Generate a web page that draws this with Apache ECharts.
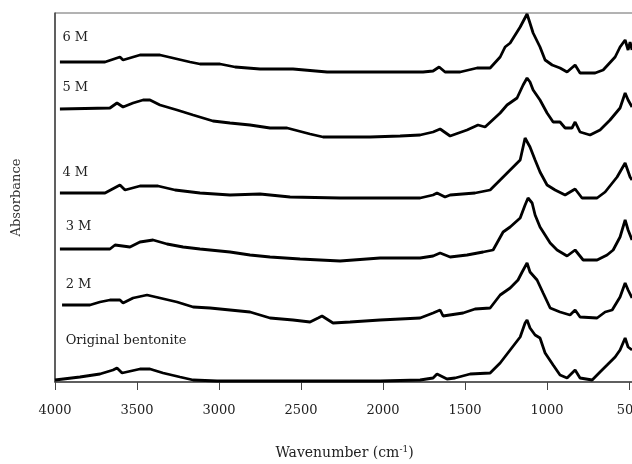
<!DOCTYPE html>
<html>
<head>
<meta charset="utf-8">
<script src="https://cdn.jsdelivr.net/npm/echarts@6/dist/echarts.min.js"></script>
<style>
  html, body { margin: 0; padding: 0; background: #fff; }
  #chart { width: 632px; height: 464px; }
</style>
</head>
<body>
<div id="chart"></div>
<script>
// FTIR spectra, offset vertically (wavenumber, absorbance a.u.)
var tickValues = [4000, 3500, 3000, 2500, 2000, 1500, 1000, 500];

var spec6M = [[3970,3.20],[3695,3.20],[3604,3.25],[3585,3.22],[3482,3.27],[3360,3.27],[3177,3.20],[3116,3.18],[2994,3.18],[2902,3.15],[2750,3.13],[2549,3.13],[2341,3.10],[1756,3.10],[1695,3.11],[1658,3.15],[1622,3.10],[1530,3.10],[1427,3.14],[1347,3.14],[1286,3.25],[1256,3.35],[1225,3.39],[1164,3.55],[1122,3.68],[1085,3.49],[1043,3.35],[1012,3.22],[969,3.17],[921,3.14],[878,3.10],[829,3.17],[799,3.09],[707,3.09],[658,3.12],[585,3.25],[555,3.35],[524,3.42],[506,3.32],[494,3.40],[482,3.32]];

var spec5M = [[3970,2.73],[3665,2.74],[3622,2.79],[3585,2.75],[3524,2.79],[3463,2.82],[3421,2.82],[3360,2.77],[3256,2.72],[3158,2.67],[3037,2.61],[2933,2.59],[2811,2.57],[2689,2.54],[2585,2.54],[2445,2.48],[2366,2.45],[2079,2.45],[1896,2.46],[1774,2.47],[1695,2.50],[1652,2.53],[1591,2.46],[1488,2.52],[1421,2.57],[1378,2.55],[1286,2.69],[1244,2.77],[1183,2.84],[1146,2.97],[1122,3.04],[1104,3.00],[1085,2.92],[1043,2.82],[1000,2.69],[963,2.60],[921,2.60],[890,2.54],[848,2.54],[829,2.60],[799,2.50],[738,2.47],[677,2.52],[616,2.62],[555,2.74],[524,2.89],[506,2.82],[482,2.75]];

var spec4M = [[3970,1.89],[3695,1.89],[3604,1.97],[3573,1.92],[3482,1.96],[3372,1.96],[3268,1.92],[3116,1.89],[2933,1.87],[2750,1.88],[2567,1.85],[2262,1.84],[1774,1.84],[1695,1.87],[1671,1.89],[1622,1.85],[1591,1.87],[1439,1.89],[1347,1.92],[1286,2.02],[1225,2.12],[1164,2.22],[1134,2.44],[1122,2.45],[1104,2.35],[1073,2.22],[1043,2.10],[1000,1.97],[951,1.92],[890,1.87],[829,1.93],[787,1.84],[695,1.84],[646,1.90],[573,2.05],[524,2.19],[494,2.05],[482,2.02]];

var spec3M = [[3970,1.33],[3665,1.33],[3634,1.37],[3543,1.35],[3482,1.40],[3402,1.42],[3317,1.38],[3219,1.35],[3116,1.33],[2933,1.30],[2811,1.27],[2689,1.25],[2506,1.23],[2262,1.21],[2018,1.24],[1774,1.24],[1695,1.26],[1652,1.29],[1591,1.25],[1488,1.27],[1390,1.30],[1329,1.32],[1268,1.50],[1225,1.55],[1164,1.64],[1134,1.77],[1116,1.84],[1091,1.79],[1073,1.67],[1043,1.55],[981,1.39],[939,1.32],[878,1.26],[829,1.32],[780,1.22],[695,1.22],[634,1.27],[597,1.32],[555,1.45],[524,1.62],[506,1.52],[482,1.42]];

var spec2M = [[3957,0.77],[3787,0.77],[3726,0.80],[3665,0.82],[3604,0.82],[3585,0.79],[3524,0.84],[3439,0.87],[3360,0.84],[3256,0.80],[3158,0.75],[3055,0.74],[2933,0.72],[2811,0.70],[2689,0.64],[2549,0.62],[2445,0.60],[2396,0.64],[2372,0.66],[2305,0.59],[2201,0.60],[2018,0.62],[1774,0.64],[1695,0.69],[1652,0.72],[1634,0.66],[1512,0.69],[1439,0.73],[1347,0.74],[1286,0.87],[1225,0.94],[1177,1.02],[1152,1.10],[1122,1.19],[1104,1.10],[1061,1.02],[1024,0.89],[981,0.74],[921,0.70],[860,0.67],[829,0.72],[799,0.65],[695,0.64],[646,0.70],[603,0.72],[555,0.85],[524,0.99],[506,0.92],[482,0.84]];

var specOriginal = [[4000,0.02],[3848,0.05],[3726,0.08],[3646,0.12],[3622,0.14],[3591,0.09],[3482,0.13],[3421,0.13],[3341,0.09],[3238,0.05],[3158,0.02],[3012,0.01],[2506,0.01],[2018,0.01],[1774,0.02],[1695,0.04],[1671,0.08],[1610,0.03],[1561,0.04],[1469,0.08],[1347,0.09],[1286,0.19],[1225,0.32],[1164,0.45],[1134,0.59],[1122,0.62],[1104,0.54],[1073,0.47],[1043,0.44],[1012,0.29],[963,0.17],[921,0.07],[878,0.04],[829,0.12],[799,0.04],[725,0.02],[677,0.10],[634,0.17],[585,0.25],[555,0.32],[524,0.44],[506,0.35],[482,0.32]];

var seriesNames = ['6 M', '5 M', '4 M', '3 M', '2 M', 'Original bentonite'];
var seriesData = [spec6M, spec5M, spec4M, spec3M, spec2M, specOriginal];
// label anchor: [wavenumber, absorbance]
var labelAnchors = [[3970, 3.44], [3970, 2.94], [3970, 2.09], [3950, 1.55], [3950, 0.97], [3950, 0.41]];

var serif = '"DejaVu Serif", "Liberation Serif", serif';

var chart = echarts.init(document.getElementById('chart'));

var series = seriesData.map(function(d, i) {
  return {
    name: seriesNames[i],
    type: 'line',
    data: d,
    showSymbol: false,
    clip: false,
    lineStyle: { color: '#000', width: 2.8 },
    markPoint: {
      symbol: 'circle',
      symbolSize: 1,
      itemStyle: { color: 'rgba(0,0,0,0)' },
      data: [{ coord: labelAnchors[i] }],
      label: {
        show: true,
        formatter: seriesNames[i],
        position: 'right',
        distance: 2,
        fontFamily: serif,
        fontSize: 13,
        color: '#222'
      }
    }
  };
});

var option = {
  animation: false,
  backgroundColor: '#fff',
  grid: {
    left: 55, top: 13, width: 579, height: 369,
    outerBoundsMode: 'none',
    show: true, borderColor: '#666', borderWidth: 1
  },
  xAxis: {
    type: 'value',
    inverse: true,
    min: 470,
    max: 4000,
    name: '{t|Wavenumber (cm}{s|-1}{t|)}',
    nameLocation: 'middle',
    nameGap: 63,
    nameTextStyle: {
      rich: {
        t: { fontFamily: serif, fontSize: 14, color: '#222' },
        s: { fontFamily: serif, fontSize: 9, color: '#222', verticalAlign: 'top', padding: [0, 0, 8, 0] }
      }
    },
    axisLine: { lineStyle: { color: '#444', width: 1.5 } },
    axisTick: { show: true, customValues: tickValues, length: 8, lineStyle: { color: '#444' } },
    axisLabel: {
      customValues: tickValues,
      margin: 22,
      fontFamily: serif,
      fontSize: 13,
      color: '#222',
      formatter: function(v) { return String(v); }
    },
    splitLine: { show: false }
  },
  yAxis: {
    type: 'value',
    min: 0,
    max: 3.69,
    name: 'Absorbance',
    nameLocation: 'middle',
    nameGap: 32,
    nameTextStyle: { fontFamily: serif, fontSize: 13, color: '#333' },
    axisLine: { show: true, lineStyle: { color: '#444', width: 1.5 } },
    axisTick: { show: false },
    axisLabel: { show: false },
    splitLine: { show: false }
  },
  series: series
};

chart.setOption(option);
</script>
</body>
</html>
